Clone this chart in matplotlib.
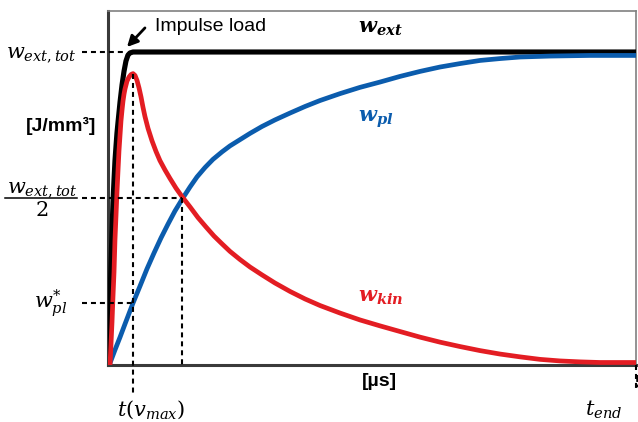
import matplotlib
matplotlib.use('Agg')
import matplotlib.pyplot as plt

plt.rcParams['mathtext.fontset'] = 'dejavuserif'

# Energy curves, time in us, energy normalised to w_ext,tot
t_ext = [0, 0.09, 0.19, 0.28, 0.38, 0.47, 0.57, 0.66, 0.76, 0.85, 0.95, 1.14, 1.33,
         1.52, 1.70, 1.89, 2.08, 2.37, 50]
w_ext = [0, 0.096, 0.208, 0.319, 0.425, 0.518, 0.591, 0.652, 0.700, 0.741, 0.776, 0.840,
         0.895, 0.939, 0.971, 0.990, 0.997, 1.0, 1.0]

t_kin = [0.19, 0.28, 0.38, 0.47, 0.57, 0.66, 0.76, 0.85, 0.95, 1.04, 1.14, 1.23, 1.33,
         1.42, 1.52, 1.61, 1.80, 1.99, 2.18, 2.37, 2.56, 2.75, 2.94, 3.13, 3.31, 3.50,
         3.79, 4.17, 4.55, 4.92, 5.40, 5.87, 6.44, 7.01, 7.77, 8.52, 9.28, 10.04, 10.80,
         11.55, 12.50, 13.45, 14.58, 15.81, 17.24, 18.66, 20.08, 21.97, 23.86, 25.76,
         27.65, 29.55, 31.44, 33.33, 35.23, 37.12, 39.02, 40.91, 42.80, 44.70, 46.59, 50]
w_kin = [0, 0.064, 0.137, 0.217, 0.297, 0.399, 0.479, 0.553, 0.623, 0.684, 0.735, 0.780,
         0.815, 0.843, 0.866, 0.882, 0.907, 0.920, 0.928, 0.931, 0.925, 0.909, 0.885,
         0.856, 0.824, 0.794, 0.756, 0.716, 0.682, 0.653, 0.623, 0.596, 0.565, 0.538,
         0.505, 0.471, 0.441, 0.412, 0.387, 0.363, 0.337, 0.313, 0.288, 0.262, 0.235,
         0.211, 0.190, 0.166, 0.144, 0.125, 0.107, 0.089, 0.073, 0.059, 0.046, 0.035,
         0.026, 0.018, 0.013, 0.010, 0.008, 0.008]

t_pl = [0.19, 0.66, 1.14, 1.61, 2.37, 3.03, 3.69, 4.36, 5.02, 5.68, 6.34, 7.10, 7.77,
        8.43, 9.19, 9.94, 10.80, 11.55, 12.50, 13.45, 14.58, 15.81, 17.24, 18.66, 20.08,
        21.97, 23.86, 25.76, 27.65, 29.55, 31.44, 33.33, 35.23, 37.12, 39.02, 41.86,
        45.65, 50]
w_pl = [0.006, 0.048, 0.089, 0.131, 0.198, 0.252, 0.307, 0.358, 0.406, 0.450, 0.492,
        0.534, 0.569, 0.601, 0.631, 0.657, 0.681, 0.700, 0.720, 0.740, 0.762, 0.783,
        0.805, 0.826, 0.845, 0.867, 0.887, 0.904, 0.922, 0.938, 0.952, 0.963, 0.973,
        0.979, 0.984, 0.987, 0.989, 0.989]

# Marked points
t_vmax = 2.37
w_peak = 0.931
w_pl_star = 0.198
t_half = 7.05
w_half = 0.535
t_end = 50
w_tot = 1.0
t_tot = 1.70

red = '#E31D23'
blue = '#0B5CAD'

fig = plt.figure(figsize=(6.38, 4.22), dpi=100)
ax = fig.add_axes([108 / 638, 57 / 422, 528 / 638, 354 / 422])

ax.plot(t_ext, w_ext, color='black', lw=3.7, solid_joinstyle='round', zorder=3)
ax.plot(t_pl, w_pl, color=blue, lw=3.4, solid_joinstyle='round', zorder=4)
ax.plot(t_kin, w_kin, color=red, lw=3.4, solid_joinstyle='round', zorder=5)

ax.set_xlim(0, 50)
ax.set_ylim(0, 1.131)
ax.set_xticks([])
ax.set_yticks([])

# Frame: heavy left/bottom, thin top/right
for side in ['left', 'bottom']:
    ax.spines[side].set_linewidth(2.2)
    ax.spines[side].set_color('#3a3a3a')
for side in ['top', 'right']:
    ax.spines[side].set_linewidth(1.2)
    ax.spines[side].set_color('#808080')

# Dashed guide lines
dash = dict(color='black', lw=1.5, linestyle=(0, (2.4, 1.9)), clip_on=False, zorder=6)
x_out = -2.46
ax.plot([x_out, t_tot], [w_tot, w_tot], **dash)
ax.plot([x_out, t_half], [w_half, w_half], **dash)
ax.plot([x_out, t_vmax], [w_pl_star, w_pl_star], **dash)
ax.plot([t_vmax, t_vmax], [w_peak, -0.089], **dash)
ax.plot([t_half, t_half], [w_half, 0], **dash)
ax.plot([t_end, t_end], [0, -0.08], **dash)

# Impulse load arrow
ax.annotate('', xy=(1.80, 1.016), xytext=(3.50, 1.077), annotation_clip=False,
            arrowprops=dict(arrowstyle='-|>', color='black', lw=2, mutation_scale=16,
                            shrinkA=0, shrinkB=0))
ax.text(4.45, 1.08, 'Impulse load', fontsize=14, family='Liberation Sans', va='center')

# Curve labels
ax.text(23.7, 1.061, r'$\mathbfit{w_{ext}}$', fontsize=15, color='black', va='baseline')
ax.text(23.7, 0.776, r'$\mathbfit{w_{pl}}$', fontsize=15, color=blue, va='baseline')
ax.text(23.7, 0.201, r'$\mathbfit{w_{kin}}$', fontsize=15, color=red, va='baseline')

# Left side labels
ytr = ax.get_yaxis_transform()
ax.text(-0.0587, 0.984, r'$w_{ext,tot}$', fontsize=15, ha='right', va='baseline',
        transform=ytr)
ax.text(-0.125, 0.553, r'$w_{ext,tot}$', fontsize=15, ha='center', va='baseline',
        transform=ytr)
ax.plot([-0.195, -0.0587], [w_half, w_half], color='black', lw=1.1, clip_on=False,
        transform=ytr)
ax.text(-0.125, 0.494, r'$2$', fontsize=15, ha='center', va='center', transform=ytr)
ax.text(-0.0777, 0.182, r'$w_{pl}^{*}$', fontsize=15, ha='right', va='baseline',
        transform=ytr)
ax.text(-0.089, 0.764, '[J/mm³]', fontsize=14, fontweight='bold', family='Liberation Sans',
        ha='center', va='center', transform=ytr)

# Bottom labels
xtr = ax.get_xaxis_transform()
ax.text(25.66, -0.048, '[µs]', fontsize=14, fontweight='bold', family='Liberation Sans',
        ha='center', va='center', transform=xtr)
ax.text(4.07, -0.144, r'$t(v_{max})$', fontsize=15, ha='center', va='baseline', transform=xtr)
ax.text(45.2, -0.144, r'$t_{end}$', fontsize=15, ha='left', va='baseline', transform=xtr)
ax.text(49.8, -0.051, '5', fontsize=14, fontweight='bold', family='Liberation Sans',
        ha='left', va='center', transform=xtr)

fig.savefig('out.png', dpi=100)
